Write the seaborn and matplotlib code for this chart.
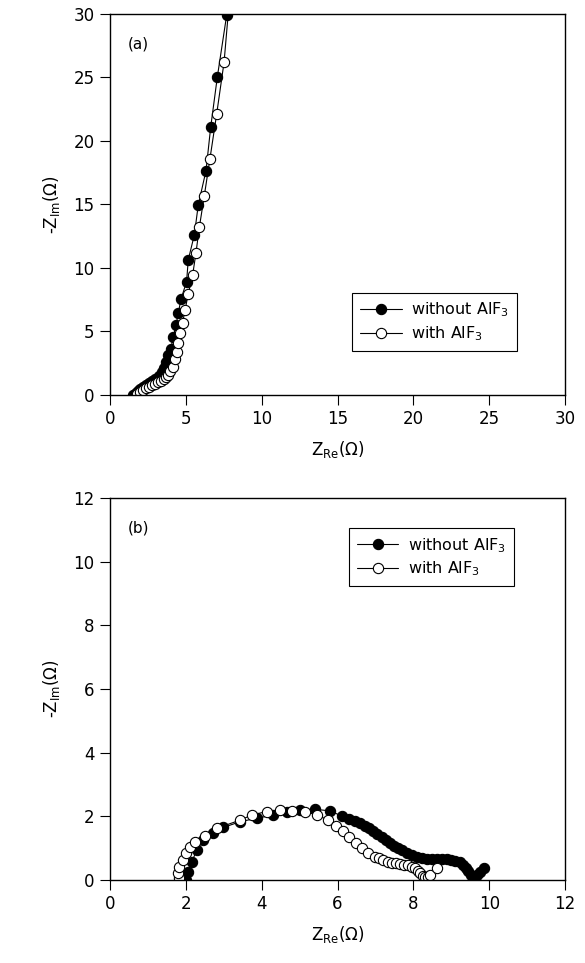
import numpy as np
import pandas as pd
import matplotlib
matplotlib.use("Agg")
import matplotlib.pyplot as plt
import seaborn as sns

# ---------------- data ----------------
# Panel (a)
a_without_x = [1.55, 1.7, 1.85, 2.0, 2.2, 2.4, 2.6, 2.8, 3.0, 3.2, 3.4, 3.55, 3.7, 3.85,
               4.0, 4.18, 4.35, 4.5, 4.68, 5.05, 5.16, 5.56, 5.82, 6.33, 6.64, 7.08, 7.69]
a_without_y = [0.0, 0.15, 0.3, 0.45, 0.6, 0.75, 0.9, 1.05, 1.25, 1.5, 1.8, 2.15, 2.6, 3.1,
               3.6, 4.59, 5.51, 6.42, 7.53, 8.92, 10.63, 12.6, 14.96, 17.66, 21.1, 25.07, 29.9]
a_with_x = [1.75, 1.95, 2.15, 2.35, 2.55, 2.75, 2.95, 3.15, 3.35, 3.55, 3.7, 3.82, 3.96,
            4.13, 4.29, 4.4, 4.5, 4.62, 4.79, 4.95, 5.16, 5.45, 5.67, 5.89, 6.22, 6.59,
            7.03, 7.52, 7.85]
a_with_y = [0.05, 0.2, 0.35, 0.5, 0.62, 0.75, 0.88, 1.0, 1.12, 1.25, 1.4, 1.6, 1.84,
            2.23, 2.81, 3.41, 4.07, 4.86, 5.69, 6.69, 7.95, 9.45, 11.2, 13.2, 15.7, 18.6,
            22.1, 26.2, 30.8]

# Panel (b)
b_without_x = [2.0, 2.07, 2.16, 2.29, 2.46, 2.72, 2.99, 3.43, 3.87, 4.31, 4.66, 5.01, 5.41,
               5.80, 6.11, 6.30, 6.46, 6.60, 6.72, 6.83, 6.94, 7.05, 7.16, 7.27, 7.38, 7.49,
               7.60, 7.71, 7.82, 7.95, 8.09, 8.22, 8.35, 8.48, 8.61, 8.75, 8.88, 9.00,
               9.10, 9.22, 9.32, 9.40, 9.45, 9.52, 9.57, 9.67, 9.75, 9.85]
b_without_y = [0.0, 0.26, 0.58, 0.94, 1.26, 1.47, 1.65, 1.83, 1.94, 2.04, 2.15, 2.2, 2.22,
               2.17, 2.01, 1.93, 1.86, 1.78, 1.70, 1.62, 1.55, 1.45, 1.36, 1.26, 1.17, 1.08,
               1.0, 0.93, 0.86, 0.79, 0.73, 0.70, 0.67, 0.66, 0.65, 0.65, 0.65, 0.63,
               0.61, 0.55, 0.48, 0.38, 0.27, 0.17, 0.09, 0.16, 0.25, 0.37]
b_with_x = [1.83, 1.80, 1.83, 1.92, 2.0, 2.11, 2.24, 2.5, 2.81, 3.43, 3.74, 4.13, 4.48,
            4.79, 5.14, 5.45, 5.76, 5.96, 6.15, 6.31, 6.49, 6.64, 6.81, 6.99, 7.10, 7.21,
            7.32, 7.43, 7.54, 7.65, 7.76, 7.87, 7.95, 8.04, 8.11, 8.18, 8.25, 8.31, 8.38,
            8.44, 8.61]
b_with_y = [0.05, 0.21, 0.42, 0.63, 0.84, 1.03, 1.2, 1.38, 1.62, 1.88, 2.04, 2.15, 2.2,
            2.17, 2.15, 2.04, 1.88, 1.70, 1.55, 1.36, 1.15, 1.0, 0.86, 0.73, 0.68, 0.63,
            0.58, 0.54, 0.52, 0.5, 0.48, 0.47, 0.42, 0.37, 0.29, 0.21, 0.14, 0.08, 0.1,
            0.16, 0.37]

labels = ["without AlF$_3$", "with AlF$_3$"]
xticks_a = [0, 5, 10, 15, 20, 25, 30]
yticks_a = [0, 5, 10, 15, 20, 25, 30]
xticks_b = [0, 2, 4, 6, 8, 10, 12]
yticks_b = [0, 2, 4, 6, 8, 10, 12]

# ---------------- style ----------------
sns.set_theme(style="white")
plt.rcParams["font.family"] = ["DejaVu Sans"]
plt.rcParams["mathtext.fontset"] = "dejavusans"
plt.rcParams["mathtext.default"] = "regular"
plt.rcParams["text.color"] = "black"
plt.rcParams["axes.labelcolor"] = "black"
plt.rcParams["xtick.color"] = "black"
plt.rcParams["ytick.color"] = "black"

fig = plt.figure(figsize=(5.85, 9.63), dpi=100)
ax_a = fig.add_axes([0.188, 0.590, 0.778, 0.3955])
ax_b = fig.add_axes([0.188, 0.0862, 0.778, 0.3968])


def draw(ax, wx, wy, ox, oy, xt, yt, lim, tag, legloc):
    dfw = pd.DataFrame({"x": wx, "y": wy})
    dfo = pd.DataFrame({"x": ox, "y": oy})
    sns.lineplot(data=dfw, x="x", y="y", sort=False, estimator=None, ax=ax,
                 color="black", lw=0.8, marker="o", markersize=7.4,
                 markerfacecolor="black", markeredgecolor="black",
                 markeredgewidth=0.8, label=labels[0])
    sns.lineplot(data=dfo, x="x", y="y", sort=False, estimator=None, ax=ax,
                 color="black", lw=0.8, marker="o", markersize=7.4,
                 markerfacecolor="white", markeredgecolor="black",
                 markeredgewidth=0.8, label=labels[1])
    ax.set_xlim(0, lim)
    ax.set_ylim(0, lim)
    ax.set_xticks(xt)
    ax.set_yticks(yt)
    ax.tick_params(axis="both", which="both", direction="out", length=7, width=0.8,
                   labelsize=12, pad=4, bottom=True, left=True, top=False, right=False,
                   colors="black", labelcolor="black")
    for s in ax.spines.values():
        s.set_color("black")
        s.set_linewidth(1.0)
        s.set_visible(True)
    ax.set_xlabel(r"Z$_{\rm Re}$($\Omega$)", fontsize=12, labelpad=8, color="black")
    ax.set_ylabel(r"-Z$_{\rm Im}$($\Omega$)", fontsize=12, labelpad=8, color="black")
    ax.text(0.04, 0.92, tag, transform=ax.transAxes, fontsize=11, ha="left", va="center",
            color="black")
    leg = ax.legend(loc="upper left", bbox_to_anchor=legloc, frameon=True, fancybox=False,
                    edgecolor="black", fontsize=11.5, handlelength=2.6, borderpad=0.5,
                    labelspacing=0.3, handletextpad=0.6, framealpha=1, borderaxespad=0,
                    labelcolor="black")
    leg.get_frame().set_linewidth(0.8)


draw(ax_a, a_without_x, a_without_y, a_with_x, a_with_y, xticks_a, yticks_a, 30, "(a)",
     (0.532, 0.268))
draw(ax_b, b_without_x, b_without_y, b_with_x, b_with_y, xticks_b, yticks_b, 12, "(b)",
     (0.525, 0.921))

fig.savefig("out.png", dpi=100)
